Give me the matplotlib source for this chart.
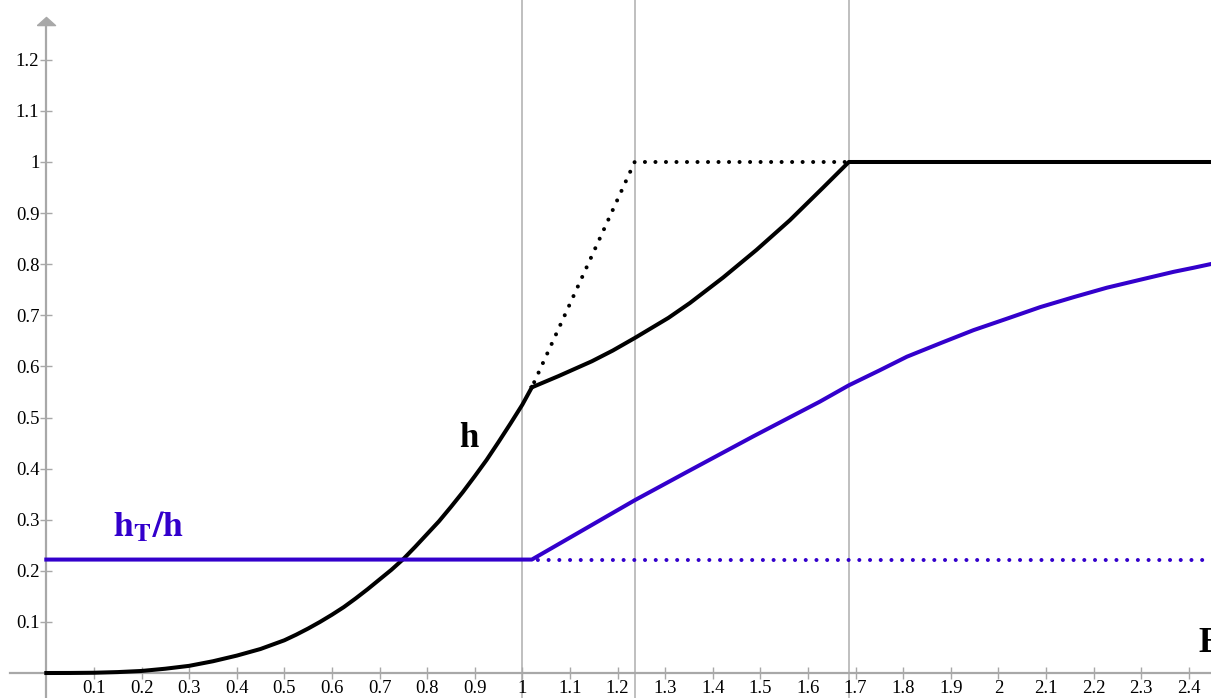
import matplotlib
matplotlib.use("Agg")
import matplotlib.pyplot as plt

plt.rcParams['font.family'] = ['Liberation Serif', 'DejaVu Serif']
plt.rcParams['mathtext.fontset'] = 'stix'

# ---- data ----
h_low_x = [0.0, 0.05, 0.1, 0.15, 0.2, 0.25, 0.3, 0.35, 0.4, 0.45, 0.5, 0.525, 0.55,
           0.575, 0.6, 0.625, 0.65, 0.675, 0.7, 0.725, 0.75, 0.775, 0.8, 0.825,
           0.85, 0.875, 0.9, 0.925, 0.95, 0.975, 1.0, 1.02]
h_low_y = [0.0, 0.0001, 0.0005, 0.0018, 0.004, 0.0084, 0.014, 0.023, 0.034, 0.047,
           0.064, 0.075, 0.087, 0.100, 0.114, 0.129, 0.146, 0.164, 0.183, 0.202,
           0.223, 0.247, 0.272, 0.297, 0.325, 0.354, 0.385, 0.417, 0.452, 0.488,
           0.525, 0.559]
h_high_x = [1.02, 1.076, 1.146, 1.19, 1.237, 1.307, 1.352, 1.422, 1.492, 1.562,
            1.632, 1.686, 2.45]
h_high_y = [0.559, 0.581, 0.610, 0.631, 0.656, 0.695, 0.724, 0.774, 0.828, 0.886,
            0.950, 1.0, 1.0]
h_dot_x = [1.02, 1.236, 1.686]
h_dot_y = [0.559, 1.0, 1.0]
ratio_x = [0.0, 1.02, 1.236, 1.345, 1.485, 1.625, 1.686, 1.75, 1.808, 1.88, 1.948,
           2.02, 2.088, 2.16, 2.228, 2.30, 2.368, 2.41, 2.45]
ratio_y = [0.222, 0.222, 0.338, 0.393, 0.463, 0.531, 0.563, 0.592, 0.619, 0.646,
           0.671, 0.694, 0.716, 0.736, 0.754, 0.770, 0.785, 0.793, 0.801]
ratio_dot_x = [1.02, 2.45]
ratio_dot_y = [0.222, 0.222]
vlines_x = [1.0, 1.236, 1.686]
xticks = [round(0.1 * i, 1) for i in range(1, 25)]
yticks = [round(0.1 * i, 1) for i in range(1, 13)]

BLUE = '#3300cc'
GRAY = '#a8a8a8'

fig = plt.figure(figsize=(12.11, 6.98), dpi=100)
ax = fig.add_axes([0, 0, 1, 1])
ax.set_xlim(-0.0973, 2.4468)
ax.set_ylim(-0.0489, 1.317)

for xv in vlines_x:
    ax.axvline(xv, color='#b4b4b4', lw=1.2, zorder=1)

ax.plot(h_low_x, h_low_y, color='black', lw=2.9, zorder=4)
ax.plot(h_high_x, h_high_y, color='black', lw=2.9, zorder=4)
ax.plot(h_dot_x, h_dot_y, color='black', lw=2.9, ls=(1.2, (0.01, 2.6)),
        dash_capstyle='round', zorder=3)
ax.plot(ratio_x, ratio_y, color=BLUE, lw=2.9, zorder=4)
ax.plot(ratio_dot_x, ratio_dot_y, color=BLUE, lw=2.9, ls=(1.2, (0.01, 2.65)),
        dash_capstyle='round', zorder=3)

# axes through origin
for s in ['top', 'right']:
    ax.spines[s].set_visible(False)
ax.spines['left'].set_position(('data', 0))
ax.spines['bottom'].set_position(('data', 0))
for s in ['left', 'bottom']:
    ax.spines[s].set_color(GRAY)
    ax.spines[s].set_linewidth(1.6)
ax.spines['left'].set_bounds(-0.0489, 1.276)
ax.spines['bottom'].set_bounds(-0.076, 2.4468)
ax.plot([0], [1.276], marker=[(-1, -0.45), (1, -0.45), (0, 0.45), (-1, -0.45)],
        ms=13, color=GRAY, clip_on=False, zorder=5)

ax.set_xticks(xticks)
ax.set_xticklabels([f'{v:g}' for v in xticks])
ax.set_yticks(yticks)
ax.set_yticklabels([f'{v:g}' for v in yticks])
ax.tick_params(axis='both', direction='inout', length=9, width=1, color=GRAY,
               labelsize=13.5, labelcolor='black')
ax.tick_params(axis='x', pad=0.5)
ax.tick_params(axis='y', pad=0.5)

ax.text(0.888, 0.458, 'h', fontsize=25, fontweight='bold', ha='center', va='center',
        color='black')
ax.text(0.214, 0.284, r'$\mathbf{h_T/h}$', fontsize=26, ha='center', va='center',
        color=BLUE)
ax.text(2.42, 0.058, 'E', fontsize=25, fontweight='bold', ha='left', va='center',
        color='black')

fig.savefig('out.png', dpi=100)
